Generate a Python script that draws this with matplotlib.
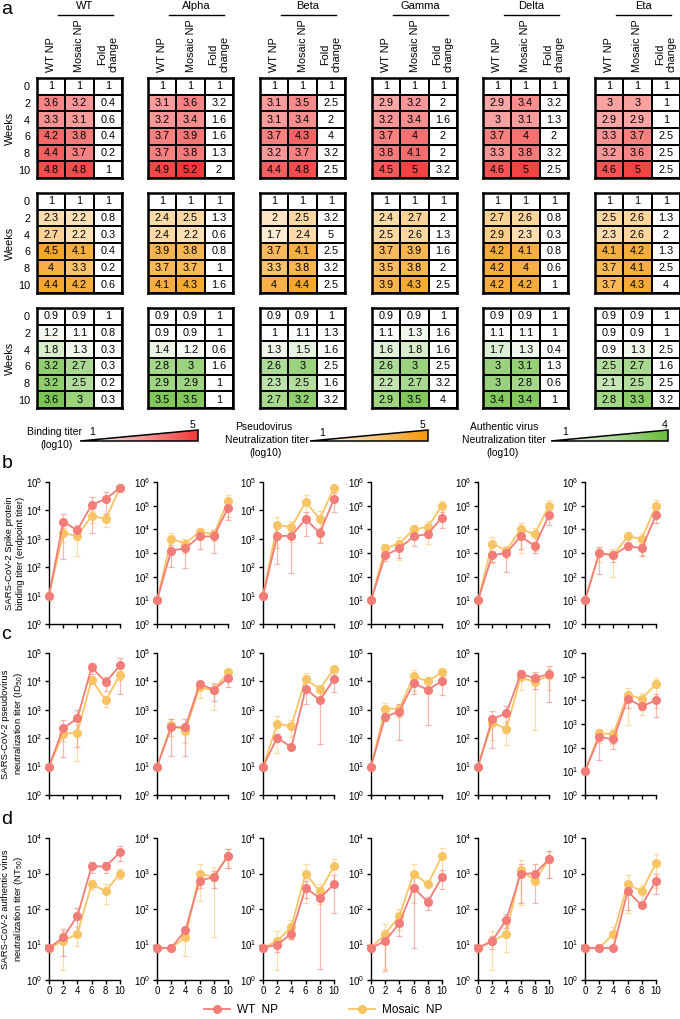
import numpy as np
import matplotlib
matplotlib.use("Agg")
import matplotlib.pyplot as plt
from matplotlib.colors import LinearSegmentedColormap
from matplotlib.lines import Line2D
from matplotlib.patches import Polygon
from matplotlib.ticker import LogFormatterMathtext, NullLocator

plt.rcParams['font.family'] = ['Liberation Sans', 'DejaVu Sans']

variants = ["WT", "Alpha", "Beta", "Gamma", "Delta", "Eta"]
weeks = [0, 2, 4, 6, 8, 10]

# heatmap values (log10 titers) and fold change, one row per variant, columns = weeks
heat_bind_wtnp = [[1, 3.6, 3.3, 4.2, 4.4, 4.8], [1, 3.1, 3.2, 3.7, 3.7, 4.9], [1, 3.1, 3.1, 3.7, 3.2, 4.4],
                  [1, 2.9, 3.2, 3.7, 3.8, 4.5], [1, 2.9, 3, 3.7, 3.3, 4.6], [1, 3, 2.9, 3.3, 3.2, 4.6]]
heat_bind_mos = [[1, 3.2, 3.1, 3.8, 3.7, 4.8], [1, 3.6, 3.4, 3.9, 3.8, 5.2], [1, 3.5, 3.4, 4.3, 3.7, 4.8],
                 [1, 3.2, 3.4, 4, 4.1, 5], [1, 3.4, 3.1, 4, 3.8, 5], [1, 3, 2.9, 3.7, 3.6, 5]]
heat_bind_fold = [[1, 0.4, 0.6, 0.4, 0.2, 1], [1, 3.2, 1.6, 1.6, 1.3, 2], [1, 2.5, 2, 4, 3.2, 2.5],
                  [1, 2, 1.6, 2, 2, 3.2], [1, 3.2, 1.3, 2, 3.2, 2.5], [1, 1, 1, 2.5, 2.5, 2.5]]

heat_pv_wtnp = [[1, 2.3, 2.7, 4.5, 4, 4.4], [1, 2.4, 2.4, 3.9, 3.7, 4.1], [1, 2, 1.7, 3.7, 3.3, 4],
                [1, 2.4, 2.5, 3.7, 3.5, 3.9], [1, 2.7, 2.9, 4.2, 4.2, 4.2], [1, 2.5, 2.3, 4.1, 3.7, 3.7]]
heat_pv_mos = [[1, 2.2, 2.2, 4.1, 3.3, 4.2], [1, 2.5, 2.2, 3.8, 3.7, 4.3], [1, 2.5, 2.4, 4.1, 3.8, 4.4],
               [1, 2.7, 2.6, 3.9, 3.8, 4.3], [1, 2.6, 2.3, 4.1, 4, 4.2], [1, 2.6, 2.6, 4.2, 4.1, 4.3]]
heat_pv_fold = [[1, 0.8, 0.3, 0.4, 0.2, 0.6], [1, 1.3, 0.6, 0.8, 1, 1.6], [1, 3.2, 5, 2.5, 3.2, 2.5],
                [1, 2, 1.3, 1.6, 2, 2.5], [1, 0.8, 0.3, 0.8, 0.6, 1], [1, 1.3, 2, 1.3, 2.5, 4]]

heat_av_wtnp = [[0.9, 1.2, 1.8, 3.2, 3.2, 3.6], [0.9, 0.9, 1.4, 2.8, 2.9, 3.5], [0.9, 1, 1.3, 2.6, 2.3, 2.7],
                [0.9, 1.1, 1.6, 2.6, 2.2, 2.9], [0.9, 1.1, 1.7, 3, 3, 3.4], [0.9, 0.9, 0.9, 2.5, 2.1, 2.8]]
heat_av_mos = [[0.9, 1.1, 1.3, 2.7, 2.5, 3], [0.9, 0.9, 1.2, 3, 2.9, 3.5], [0.9, 1.1, 1.5, 3, 2.5, 3.2],
               [0.9, 1.3, 1.8, 3, 2.7, 3.5], [0.9, 1.1, 1.3, 3.1, 2.8, 3.4], [0.9, 0.9, 1.3, 2.7, 2.5, 3.3]]
heat_av_fold = [[1, 0.8, 0.3, 0.3, 0.2, 0.3], [1, 1, 0.6, 1.6, 1, 1], [1, 1.3, 1.6, 2.5, 1.6, 3.2],
                [1, 1.6, 1.6, 2.5, 3.2, 4], [1, 1, 0.4, 1.3, 0.6, 1], [1, 1, 2.5, 1.6, 2.5, 3.2]]

line_bind_wtnp = heat_bind_wtnp
line_bind_mos = heat_bind_mos
line_pv_wtnp = [[1, 2.35, 2.7, 4.49, 3.98, 4.56], [1, 2.38, 2.39, 3.92, 3.7, 4.12], [1, 2.02, 1.68, 3.74, 3.33, 4.09],
                [1, 2.76, 2.94, 3.94, 3.7, 4.02], [1, 2.67, 2.88, 4.26, 4.12, 4.26], [1, 2.46, 2.35, 4.07, 3.75, 4.0]]
line_pv_mos = [[1, 2.15, 2.2, 4.06, 3.33, 4.24], [1, 2.47, 2.27, 3.8, 3.68, 4.32], [1, 2.49, 2.44, 4.08, 3.73, 4.45],
               [1, 3.04, 3.04, 4.18, 4.0, 4.33], [1, 2.55, 2.33, 4.14, 3.98, 4.21], [1, 2.6, 2.57, 4.24, 4.07, 4.68]]
line_av_wtnp = heat_av_wtnp
line_av_mos = heat_av_mos

# error bar size as SD / mean
r_bind_wtnp = [[0, 0.95, 0.5, 0.9, 0.7, 0.25], [0, 0.8, 0.85, 0.7, 0.8, 0.7], [0, 0.9, 0.95, 0.75, 0.55, 0.65],
               [0, 0.4, 0.6, 0.6, 0.3, 0.65], [0, 0.5, 0.85, 0.7, 0.5, 0.6], [0, 0.87, 0.5, 0.3, 0.55, 0.55]]
r_bind_mos = [[0, 0.5, 0.8, 0.45, 0.5, 0.2], [0, 0.8, 0.6, 0.4, 0.5, 0.8], [0, 0.85, 0.7, 0.75, 0.85, 0.15],
              [0, 0.55, 0.8, 0.5, 0.8, 0.6], [0, 0.85, 0.5, 0.9, 0.8, 0.7], [0, 0.6, 0.88, 0.6, 0.8, 0.7]]
r_pv_wtnp = [[0, 0.9, 0.9, 0.4, 0.5, 0.9], [0, 0.9, 0.9, 0.2, 0.6, 0.5], [0, 0.3, 0.2, 0.7, 0.97, 0.65],
             [0, 0.3, 0.9, 0.6, 0.94, 0.68], [0, 0.9, 0.8, 0.35, 0.6, 0.9], [0, 0.9, 0.6, 0.6, 0.3, 0.8]]
r_pv_mos = [[0, 0.45, 0.9, 0.3, 0.4, 0.35], [0, 0.6, 0.65, 0.6, 0.8, 0.3], [0, 0.9, 0.6, 0.65, 0.3, 0.2],
            [0, 0.55, 0.5, 0.7, 0.45, 0.25], [0, 0.75, 0.72, 0.65, 0.98, 0.7], [0, 0.6, 0.6, 0.95, 0.8, 0.9]]
r_av_wtnp = [[0, 0.7, 0.7, 0.35, 0.35, 0.45], [0, 0.1, 0.25, 0.4, 0.5, 0.55], [0, 0.4, 0.3, 0.5, 0.99, 0.85],
             [0, 0.86, 0.55, 0.98, 0.4, 0.55], [0, 0.4, 0.4, 0.85, 0.85, 0.7], [0, 0.05, 0.05, 0.7, 0.1, 0.57]]
r_av_mos = [[0, 0.85, 0.55, 0.3, 0.55, 0.3], [0, 0.1, 0.7, 0.83, 0.98, 0.55], [0, 0.85, 0.55, 0.85, 0.55, 0.6],
            [0, 0.9, 0.6, 0.85, 0.1, 0.7], [0, 0.85, 0.7, 0.9, 0.2, 0.7], [0, 0.05, 0.55, 0.85, 0.5, 0.8]]

ytop_bind = [5, 6, 5, 6, 6, 6]
ytop_pv = [5, 5, 5, 5, 5, 6]
ytop_av = [4, 4, 4, 4, 4, 4]

RED = '#F27D78'
YEL = '#F9C464'

W, H = 680, 1019
fig = plt.figure(figsize=(W / 100, H / 100), dpi=100)


def px_axes(x, y, w, h):
    return fig.add_axes([x / W, 1 - (y + h) / H, w / W, h / H])


cm_red = LinearSegmentedColormap.from_list('r', ['white', '#F23A3A'])
cm_org = LinearSegmentedColormap.from_list('o', ['white', '#F5980A'])
cm_grn = LinearSegmentedColormap.from_list('g', ['white', '#68BC3C'])
for c in (cm_red, cm_org, cm_grn):
    c.set_bad('white')

tab_left = [37, 148, 260, 372, 483, 595]
tab_top = [78, 193, 308]
heat_sets = [(heat_bind_wtnp, heat_bind_mos, heat_bind_fold, cm_red, 5.2),
             (heat_pv_wtnp, heat_pv_mos, heat_pv_fold, cm_org, 5),
             (heat_av_wtnp, heat_av_mos, heat_av_fold, cm_grn, 4)]

fig.text(0.002, 0.999, 'a', fontsize=14, va='top', ha='left')

for ri, (wt, mos, fold, cmap, vmax) in enumerate(heat_sets):
    for j, v in enumerate(variants):
        ax = px_axes(tab_left[j], tab_top[ri], 85, 100)
        data = np.array([wt[j], mos[j], fold[j]], dtype=float).T
        mask = np.zeros_like(data, dtype=bool)
        mask[:, 2] = True
        ax.pcolormesh(np.ma.masked_array(data, mask), cmap=cmap, vmin=1, vmax=vmax,
                      edgecolors='black', linewidth=1.3)
        for r in range(6):
            for c in range(3):
                ax.text(c + 0.5, r + 0.5, f"{data[r, c]:g}", ha='center', va='center', fontsize=7.8)
        ax.set_xlim(0, 3)
        ax.set_ylim(6, 0)
        for s in ax.spines.values():
            s.set_linewidth(1.8)
        ax.tick_params(length=0)
        ax.set_xticks([])
        if j == 0:
            ax.set_yticks(np.arange(6) + 0.5)
            ax.set_yticklabels([str(w) for w in weeks], fontsize=7.8)
            ax.tick_params(axis='y', pad=5)
            ax.set_ylabel('Weeks', fontsize=7.8, labelpad=2)
        else:
            ax.set_yticks([])
        if ri == 0:
            ax.xaxis.set_ticks_position('top')
            ax.set_xticks(np.arange(3) + 0.5)
            ax.set_xticklabels(['WT NP', 'Mosaic NP', 'Fold\nchange'], rotation=90, fontsize=7.8)
            ax.tick_params(axis='x', pad=4)
            x0 = tab_left[j] + 21
            fig.add_artist(Line2D([x0 / W, (x0 + 55) / W], [1 - 15 / H, 1 - 15 / H],
                                  color='black', lw=1.0))
            fig.text((x0 + 27) / W, 1 - 6 / H, v, ha='center', va='center', fontsize=8)


def wedge(x, y, w, h, cmap):
    ax = px_axes(x, y, w, h)
    grad = np.linspace(0, 1, 256).reshape(1, -1)
    im = ax.imshow(grad, cmap=cmap, extent=[0, 1, 0, 1], aspect='auto')
    tri = Polygon([[0, 0], [1, 0], [1, 1]], closed=True, fc='none', ec='black', lw=1.1,
                  clip_on=False)
    ax.add_patch(tri)
    im.set_clip_path(tri)
    ax.set_xlim(0, 1)
    ax.set_ylim(0, 1)
    ax.axis('off')


wedge(80, 430, 118, 11, cm_red)
wedge(310, 430, 118, 11, cm_org)
wedge(551, 430, 117, 11, cm_grn)

fs = 7.5
fig.text(27 / W, 1 - 432 / H, 'Binding titer', fontsize=fs, va='center')
fig.text(57 / W, 1 - 445 / H, '(log10)', fontsize=fs, va='center', ha='center')
fig.text(92 / W, 1 - 432 / H, '1', fontsize=fs, va='center', ha='center')
fig.text(192 / W, 1 - 425 / H, '5', fontsize=fs, va='center', ha='center')
fig.text(264 / W, 1 - 427 / H, 'Pseudovirus', fontsize=fs, va='center', ha='center')
fig.text(267 / W, 1 - 440 / H, 'Neutralization titer', fontsize=fs, va='center', ha='center')
fig.text(266 / W, 1 - 453 / H, '(log10)', fontsize=fs, va='center', ha='center')
fig.text(322 / W, 1 - 433 / H, '1', fontsize=fs, va='center', ha='center')
fig.text(422 / W, 1 - 425 / H, '5', fontsize=fs, va='center', ha='center')
fig.text(504 / W, 1 - 427 / H, 'Authentic virus', fontsize=fs, va='center', ha='center')
fig.text(504 / W, 1 - 440 / H, 'Neutralization titer', fontsize=fs, va='center', ha='center')
fig.text(503 / W, 1 - 453 / H, '(log10)', fontsize=fs, va='center', ha='center')
fig.text(565 / W, 1 - 432 / H, '1', fontsize=fs, va='center', ha='center')
fig.text(665 / W, 1 - 425 / H, '4', fontsize=fs, va='center', ha='center')

# line panels
plot_left = [49, 157, 263, 371, 478, 585]
panels = [
    ('b', 482, line_bind_wtnp, line_bind_mos, r_bind_wtnp, r_bind_mos, ytop_bind,
     'SARS-CoV-2 Spike protein\nbinding titer (endpoint titer)'),
    ('c', 653, line_pv_wtnp, line_pv_mos, r_pv_wtnp, r_pv_mos, ytop_pv,
     'SARS-CoV-2 pseudovirus\nneutralization titer (ID$_{\\mathdefault{50}}$)'),
    ('d', 838, line_av_wtnp, line_av_mos, r_av_wtnp, r_av_mos, ytop_av,
     'SARS-CoV-2 authentic virus\nneutralization titer (NT$_{\\mathdefault{50}}$)'),
]

for pi, (letter, top, m_wt, m_mos, r_wt, r_mos, ytops, ylab) in enumerate(panels):
    fig.text(0.002, 1 - (top - 27) / H, letter, fontsize=14, va='top', ha='left')
    for j in range(6):
        ax = px_axes(plot_left[j], top, 71, 142)
        for mean_log, rr, col in ((m_mos[j], r_mos[j], YEL), (m_wt[j], r_wt[j], RED)):
            mean = 10 ** np.array(mean_log, dtype=float)
            rr = np.array(rr, dtype=float)
            ax.errorbar(weeks, mean, yerr=[mean * rr, mean * rr], fmt='none', ecolor=col,
                        alpha=0.55, elinewidth=0.9, capsize=2.2, capthick=0.9, clip_on=False)
            ax.plot(weeks, mean, '-o', color=col, ms=5.5, lw=1.3, clip_on=False, zorder=3)
        ax.set_yscale('log')
        ax.set_yticks([10.0 ** k for k in range(ytops[j] + 1)])
        ax.yaxis.set_major_formatter(LogFormatterMathtext())
        ax.yaxis.set_minor_locator(NullLocator())
        ax.set_ylim(1, 10 ** ytops[j])
        ax.set_xlim(0, 10)
        ax.set_xticks(weeks)
        for s in ('top', 'right'):
            ax.spines[s].set_visible(False)
        for s in ('left', 'bottom'):
            ax.spines[s].set_linewidth(1.0)
        ax.tick_params(labelsize=7, length=3, width=1.0, pad=1.5)
        if pi < 2:
            ax.tick_params(axis='x', labelbottom=False)
        if j == 0:
            ax.set_ylabel(ylab, fontsize=6.8, labelpad=1)

handles = [Line2D([], [], color=RED, marker='o', ms=5.5, lw=1.3),
           Line2D([], [], color=YEL, marker='o', ms=5.5, lw=1.3)]
fig.legend(handles, ['WT  NP', 'Mosaic  NP'], loc='center', bbox_to_anchor=(323 / W, 1 - 1010 / H),
           ncol=2, frameon=False, fontsize=8.5, handlelength=2.2, columnspacing=6, handletextpad=0.6)

fig.savefig('out.png', dpi=100)
